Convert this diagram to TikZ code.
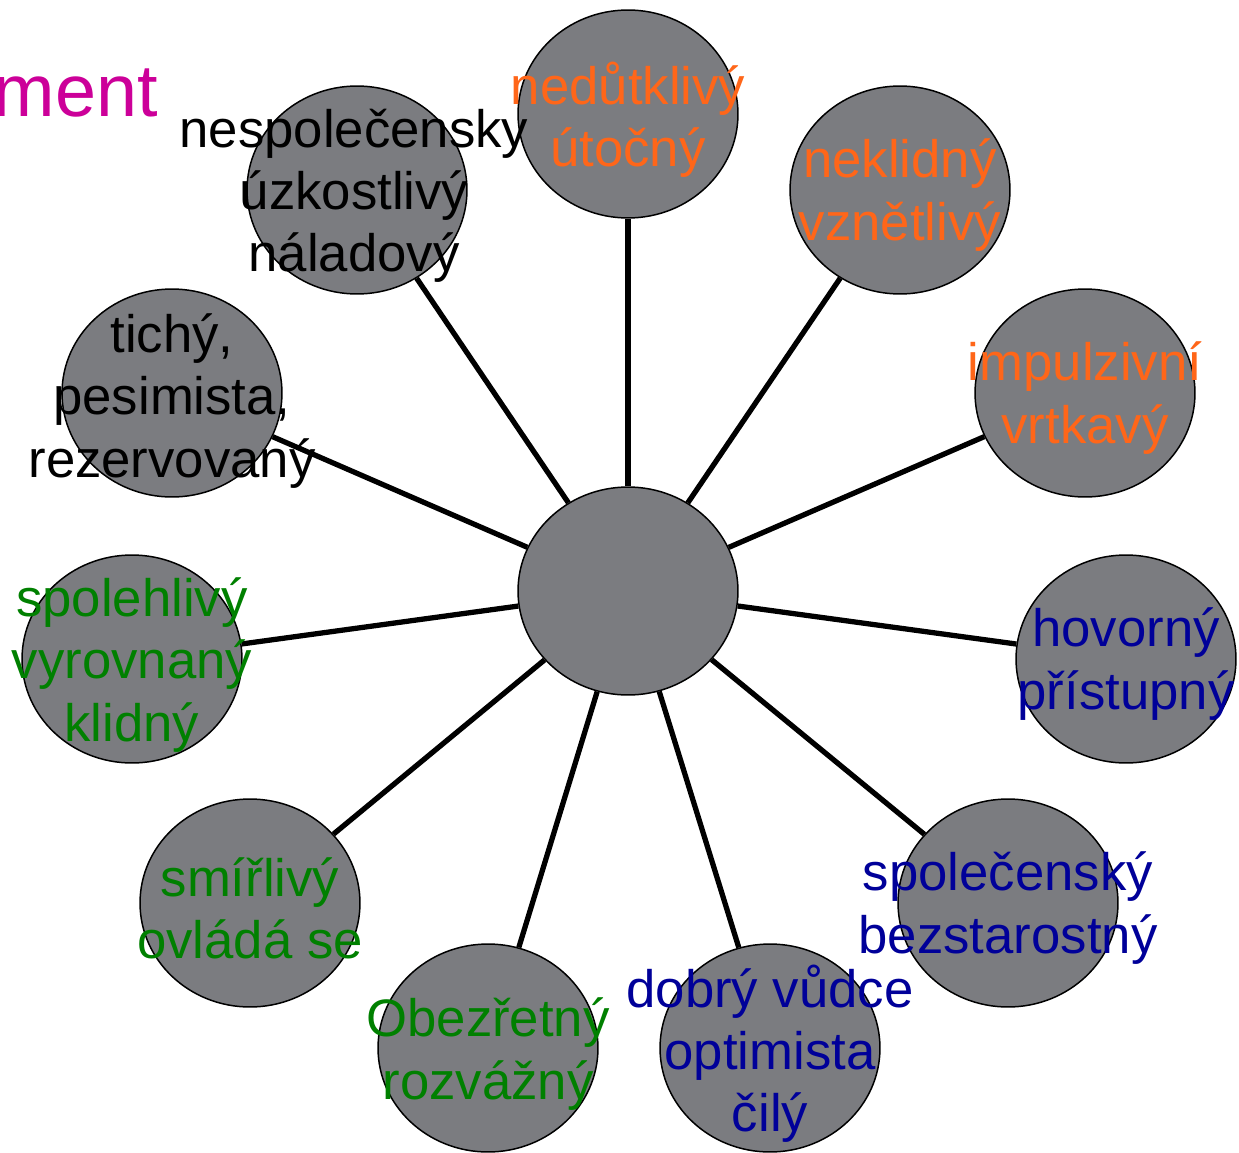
\documentclass[tikz,border=0pt]{standalone}
\usepackage{fontspec}
\setmainfont{Liberation Sans}
\usepackage{tikz}
\definecolor{blobfill}{RGB}{123,124,128}
\definecolor{hot}{RGB}{255,102,25}
\definecolor{calm}{RGB}{0,128,0}
\definecolor{lively}{RGB}{0,0,153}
\definecolor{title}{RGB}{204,0,153}
\tikzset{
  blob/.style={ellipse, draw=black, line width=0.85pt, fill=blobfill, minimum width=4.4cm, minimum height=4.16cm, inner sep=0pt},
  lbl/.style={align=center, inner sep=0pt, font=\fontsize{30}{35.4}\selectfont},
  spoke/.style={line width=3pt}
}
\usetikzlibrary{shapes.geometric}
\begin{document}
\begin{tikzpicture}[x=0.02cm, y=-0.02cm]
\useasboundingbox (0,0) rectangle (1239,1152);
% circles
\node[blob] (mid) at (628,591) {};
\node[blob] (cho1) at (628,114) {};
\node[blob] (cho2) at (900,190) {};
\node[blob] (cho3) at (1085,393) {};
\node[blob] (san1) at (1126,659) {};
\node[blob] (san2) at (1008,903) {};
\node[blob] (san3) at (770,1048) {};
\node[blob] (phl1) at (488,1048) {};
\node[blob] (phl2) at (250,903) {};
\node[blob] (phl3) at (132,659) {};
\node[blob] (mel1) at (172,393) {};
\node[blob] (mel2) at (357,190) {};
% spokes
\foreach \n in {cho1,cho2,cho3,san1,san2,san3,phl1,phl2,phl3,mel1,mel2}
  \draw[spoke] (mid) -- (\n);
% labels
\node[lbl, text=hot] (tcho1) at (628,120) {nedůtklivý\\útočný};
\node[lbl, text=hot] (tcho2) at (900,195) {neklidný\\vznětlivý};
\node[lbl, text=hot] (tcho3) at (1085,398) {impulzivní\\vrtkavý};
\node[lbl, text=lively] (tsan1) at (1126,664) {hovorný\\přístupný};
\node[lbl, text=lively] (tsan2) at (1008,908) {společenský\\bezstarostný};
\node[lbl, text=lively] (tsan3) at (770,1054) {dobrý vůdce\\optimista\\čilý};
\node[lbl, text=calm] (tphl1) at (488,1054) {Obezřetný\\rozvážný};
\node[lbl, text=calm] (tphl2) at (250,908) {smířlivý\\ovládá se};
\node[lbl, text=calm] (tphl3) at (132,665) {spolehlivý\\vyrovnaný\\klidný};
\node[lbl] (tmel1) at (172,401) {tichý,\\pesimista,\\rezervovaný};
\node[lbl] (tmel2) at (354,196) {nespolečensky\\úzkostlivý\\náladový};
\node[anchor=base east, inner sep=0pt, text=title, font=\fontsize{42}{50}\selectfont] (head) at (158,117) {ment};
\end{tikzpicture}
\end{document}
